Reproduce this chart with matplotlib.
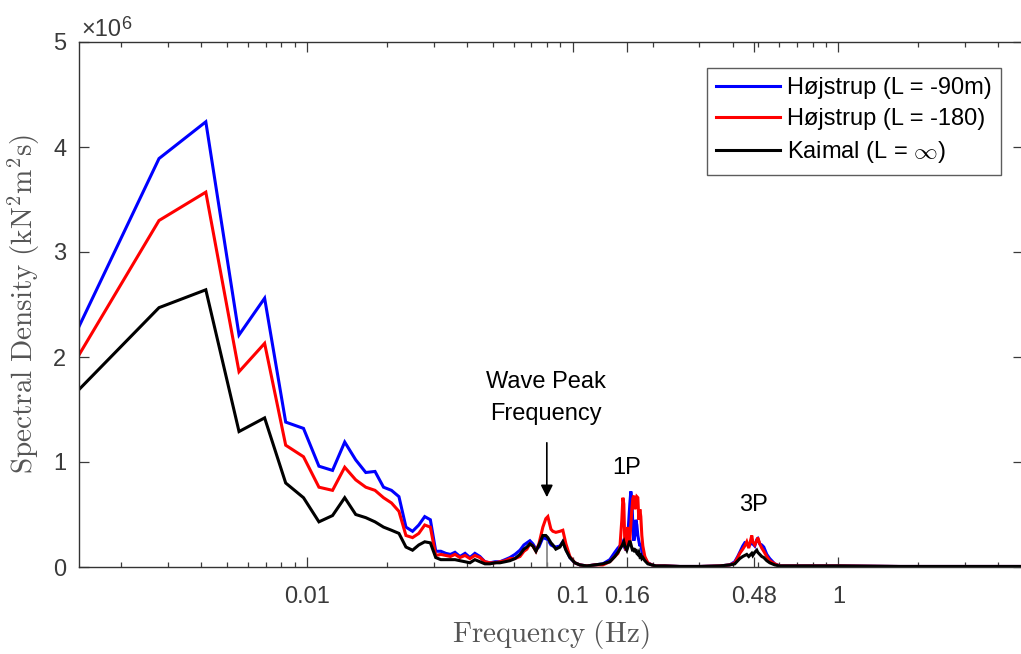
import matplotlib
matplotlib.use("Agg")
import matplotlib.pyplot as plt
from matplotlib.ticker import FixedLocator, NullFormatter, LogLocator, FixedFormatter

plt.rcParams['font.family'] = ['Liberation Sans', 'DejaVu Sans']
plt.rcParams['mathtext.fontset'] = 'cm'

# Frequency (Hz)
freq = [0.00139, 0.00278, 0.00417, 0.00556, 0.00694, 0.00833, 0.00972, 0.01111, 0.0125, 0.01389,
        0.01528, 0.01667, 0.01806, 0.01944, 0.02083, 0.02222, 0.02361, 0.025, 0.02639, 0.02778,
        0.02917, 0.03056, 0.03194, 0.03333, 0.03472,
        0.0361, 0.0377, 0.0394, 0.0411, 0.0429, 0.0448, 0.0468, 0.0489, 0.0511, 0.0533,
        0.0557, 0.0581, 0.0607, 0.0634, 0.0656, 0.0673, 0.0691, 0.0709, 0.0728, 0.0747,
        0.0773, 0.0793, 0.0807, 0.0829, 0.0843, 0.0865, 0.0896, 0.0919, 0.0944, 0.0977,
        0.1020, 0.1065, 0.1132, 0.1213, 0.1300, 0.1381, 0.1442, 0.1481, 0.1506, 0.1532,
        0.1546, 0.1559, 0.1573, 0.1586, 0.1600, 0.1614, 0.1628, 0.1642, 0.1656, 0.1671,
        0.1685, 0.1700, 0.1715, 0.1730, 0.1745, 0.1760, 0.1775, 0.1791, 0.1806, 0.1822,
        0.1838, 0.1870, 0.1919, 0.1987, 0.2057, 0.2223, 0.2532, 0.3010, 0.3579, 0.3903,
        0.4076, 0.4182, 0.4256, 0.4368, 0.4444, 0.4522, 0.4601, 0.4681, 0.4722, 0.4763,
        0.4846, 0.4931, 0.4974, 0.5061, 0.5149, 0.5240, 0.5378, 0.5518, 0.5762, 0.6016,
        0.7153, 1.0117, 1.70, 2.86, 4.90]

# Spectral density (x 1e6 kN^2 m^2 s)
hojstrup_90 = [2.29, 3.89, 4.24, 2.21, 2.56, 1.38, 1.32, 0.96, 0.92, 1.19,
               1.02, 0.90, 0.91, 0.76, 0.73, 0.67, 0.38, 0.34, 0.40, 0.48,
               0.45, 0.15, 0.15, 0.13, 0.12,
               0.14, 0.10, 0.13, 0.09, 0.13, 0.10, 0.05, 0.04, 0.05, 0.05,
               0.07, 0.09, 0.12, 0.16, 0.21, 0.23, 0.25, 0.22, 0.17, 0.19,
               0.28, 0.27, 0.26, 0.21, 0.20, 0.19, 0.20, 0.24, 0.17, 0.09,
               0.04, 0.02, 0.01, 0.02, 0.03, 0.07, 0.14, 0.18, 0.20, 0.22,
               0.24, 0.20, 0.18, 0.16, 0.20, 0.30, 0.45, 0.60, 0.72, 0.65,
               0.40, 0.25, 0.30, 0.45, 0.40, 0.30, 0.25, 0.20, 0.22, 0.15,
               0.12, 0.08, 0.04, 0.02, 0.01, 0.01, 0.005, 0.005, 0.01, 0.02,
               0.05, 0.10, 0.14, 0.20, 0.23, 0.22, 0.20, 0.22, 0.24, 0.22,
               0.20, 0.26, 0.27, 0.22, 0.21, 0.19, 0.12, 0.08, 0.03, 0.01,
               0.01, 0.01, 0.005, 0.005, 0.005]

hojstrup_180 = [2.02, 3.30, 3.57, 1.86, 2.13, 1.16, 1.05, 0.76, 0.73, 0.95,
                0.83, 0.76, 0.73, 0.66, 0.61, 0.53, 0.30, 0.28, 0.32, 0.40,
                0.38, 0.11, 0.12, 0.11, 0.10,
                0.12, 0.09, 0.11, 0.08, 0.11, 0.09, 0.05, 0.04, 0.04, 0.05,
                0.06, 0.08, 0.08, 0.10, 0.15, 0.17, 0.22, 0.20, 0.15, 0.22,
                0.38, 0.46, 0.48, 0.36, 0.34, 0.33, 0.34, 0.35, 0.22, 0.10,
                0.04, 0.02, 0.01, 0.02, 0.02, 0.05, 0.10, 0.13, 0.18, 0.45,
                0.66, 0.60, 0.20, 0.16, 0.30, 0.38, 0.30, 0.25, 0.40, 0.55,
                0.65, 0.68, 0.55, 0.62, 0.67, 0.66, 0.45, 0.55, 0.48, 0.30,
                0.20, 0.10, 0.04, 0.02, 0.01, 0.01, 0.005, 0.005, 0.01, 0.02,
                0.04, 0.09, 0.13, 0.17, 0.20, 0.24, 0.18, 0.26, 0.30, 0.24,
                0.21, 0.25, 0.28, 0.22, 0.18, 0.15, 0.10, 0.06, 0.03, 0.01,
                0.01, 0.01, 0.005, 0.005, 0.005]

kaimal = [1.69, 2.47, 2.64, 1.29, 1.42, 0.80, 0.66, 0.43, 0.49, 0.66,
          0.50, 0.47, 0.43, 0.38, 0.35, 0.32, 0.19, 0.16, 0.21, 0.24,
          0.23, 0.09, 0.07, 0.07, 0.07,
          0.07, 0.06, 0.05, 0.04, 0.07, 0.05, 0.03, 0.03, 0.04, 0.04,
          0.05, 0.06, 0.08, 0.12, 0.17, 0.19, 0.22, 0.20, 0.15, 0.21,
          0.30, 0.30, 0.28, 0.23, 0.21, 0.17, 0.19, 0.24, 0.16, 0.09,
          0.04, 0.02, 0.01, 0.02, 0.03, 0.05, 0.10, 0.14, 0.17, 0.20,
          0.22, 0.24, 0.20, 0.18, 0.16, 0.19, 0.22, 0.25, 0.22, 0.18,
          0.15, 0.18, 0.14, 0.17, 0.13, 0.12, 0.14, 0.10, 0.11, 0.08,
          0.09, 0.06, 0.03, 0.02, 0.01, 0.01, 0.005, 0.005, 0.01, 0.02,
          0.03, 0.06, 0.08, 0.10, 0.11, 0.12, 0.10, 0.12, 0.13, 0.11,
          0.14, 0.16, 0.14, 0.12, 0.10, 0.09, 0.06, 0.04, 0.02, 0.01,
          0.01, 0.01, 0.005, 0.005, 0.005]

labels = ['Højstrup (L = -90m)', 'Højstrup (L = -180)', r'Kaimal (L = $\infty$)']
colors = ['#0000ff', '#ff0000', '#000000']
xtick_vals = [0.01, 0.1, 0.16, 0.48, 1]
xtick_labels = ['0.01', '0.1', '0.16', '0.48', '1']
ytick_vals = [0, 1, 2, 3, 4, 5]
wave_peak_f = 0.08
p1_f = 0.16
p3_f = 0.48

W, H = 1021, 654
fig = plt.figure(figsize=(W / 100, H / 100), dpi=100)
x0, x1, ytop, ybot = 79, 1023, 42, 567
ax = fig.add_axes([x0 / W, (H - ybot) / H, (x1 - x0) / W, (ybot - ytop) / H])

for ys, c, lab in zip([hojstrup_90, hojstrup_180, kaimal], colors, labels):
    ax.plot(freq, ys, color=c, lw=2.2, label=lab, solid_joinstyle='miter')

ax.set_xscale('log')
ax.set_xlim(0.00139, 4.95)
ax.set_ylim(0, 5)

tc = '#3a3a3a'
ax.xaxis.set_major_locator(FixedLocator(xtick_vals))
ax.xaxis.set_major_formatter(FixedFormatter(xtick_labels))
ax.xaxis.set_minor_locator(LogLocator(base=10, subs=range(2, 10), numticks=20))
ax.xaxis.set_minor_formatter(NullFormatter())
ax.set_yticks(ytick_vals)
ax.set_yticklabels([str(v) for v in ytick_vals])
ax.tick_params(which='both', direction='in', top=True, right=True, colors=tc,
               labelsize=17, width=0.9)
ax.tick_params(which='major', length=7)
ax.tick_params(axis='x', which='major', pad=14)
ax.tick_params(axis='y', which='major', pad=9)
ax.tick_params(which='minor', length=3.5)
for s in ax.spines.values():
    s.set_color('#333333')
    s.set_linewidth(1.0)

# gray marker line at wave peak frequency
ax.plot([wave_peak_f, wave_peak_f], [0, 0.24], color='#808080', lw=1.2, zorder=5)

ax.set_xlabel(r'$\mathrm{Frequency\ (Hz)}$', fontsize=21, color='#555555', labelpad=7)
ax.set_ylabel(r'$\mathrm{Spectral\ Density\ (kN^2m^2s)}$', fontsize=21, color='#555555', labelpad=8)

fig.text(81 / W, 1 - 36 / H, '×10', fontsize=17, color=tc, ha='left', va='baseline')
fig.text(121 / W, 1 - 29 / H, '6', fontsize=13, color=tc, ha='left', va='baseline')

ax.text(wave_peak_f * 0.99, (567 - 382) / 105.0, 'Wave Peak', ha='center', va='center', fontsize=17)
ax.text(wave_peak_f * 0.99, (567 - 414) / 105.0, 'Frequency', ha='center', va='center', fontsize=17)
ax.annotate('', xy=(wave_peak_f, (567 - 500) / 105.0), xytext=(wave_peak_f, (567 - 440) / 105.0),
            arrowprops=dict(arrowstyle='-|>', color='black', lw=1.2, mutation_scale=18))
ax.text(p1_f, (567 - 468) / 105.0, '1P', ha='center', va='center', fontsize=17)
ax.text(p3_f, (567 - 505) / 105.0, '3P', ha='center', va='center', fontsize=17)

leg = ax.legend(loc='upper right', bbox_to_anchor=((1001 - x0) / (x1 - x0), (ybot - 68) / (ybot - ytop)),
                fontsize=17, frameon=True, fancybox=False, handlelength=2.7, handletextpad=0.3,
                borderpad=0.4, labelspacing=0.38, borderaxespad=0)
leg.get_frame().set_edgecolor('#333333')
leg.get_frame().set_linewidth(1.0)

fig.savefig('out.png', dpi=100)
